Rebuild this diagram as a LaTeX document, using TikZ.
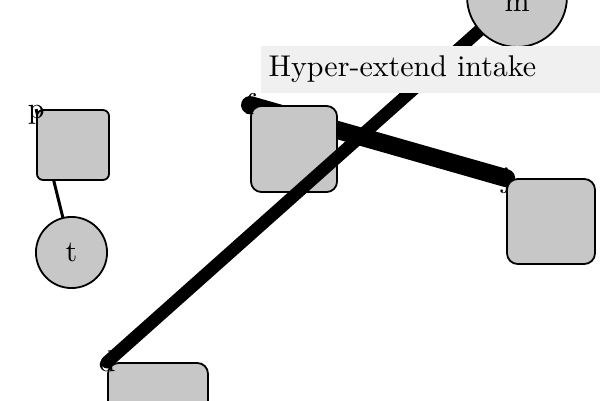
\documentclass[tikz,border=0pt]{standalone}
\pgfdeclarelayer{back}
\pgfdeclarelayer{front}
\pgfsetlayers{back,main,front}
\begin{document}
\begin{tikzpicture}[x=0.3333pt,y=-0.3333pt,
    box/.style={draw,fill=black!22,line width=0.6pt,rounded corners=3.5pt,inner sep=0pt},
    ball/.style={circle,draw,fill=black!22,line width=0.6pt,inner sep=0pt},
    corner/.style={anchor=base,inner sep=0pt,yshift=-3.2pt},
    wire/.style={line cap=round}]
    \useasboundingbox (0,0) rectangle (600,400);
    % squares and circles
    \node[box,rounded corners=2pt,minimum width=24pt,minimum height=23.3pt,label={[corner]north west:p}] (p) at (73,145) {};
    \node[ball,minimum size=23.7pt] (t) at (71.5,252.5) {t};
    \node[box,minimum size=28.7pt,label={[corner]north west:f}] (f) at (294,149) {};
    \node[box,minimum width=29.3pt,minimum height=28.3pt,label={[corner]north west:j}] (j) at (551,221.5) {};
    %% these lie over the long line
    \begin{pgfonlayer}{front}
    \node[box,minimum size=33.3pt,label={[corner]north west:d}] (d) at (158,413) {};
    \node[ball,minimum size=33.3pt,text height=10pt] (m) at (517,-3) {m};
    \node[anchor=west,fill=black!6,text width=108pt,inner xsep=2.67pt,minimum height=13pt] (lbl) at (260,69.5) {Hyper-extend intake};
    \end{pgfonlayer}
    % connectors
    \begin{pgfonlayer}{back}
    \draw[line width=1pt] (p.north west) -- (t.center);
    \draw[wire,line width=6pt] (f.north west) -- (j.north west);
    \end{pgfonlayer}
    \draw[wire,line width=4.2pt] (d.north west) -- (m.center);
\end{tikzpicture}
\end{document}
